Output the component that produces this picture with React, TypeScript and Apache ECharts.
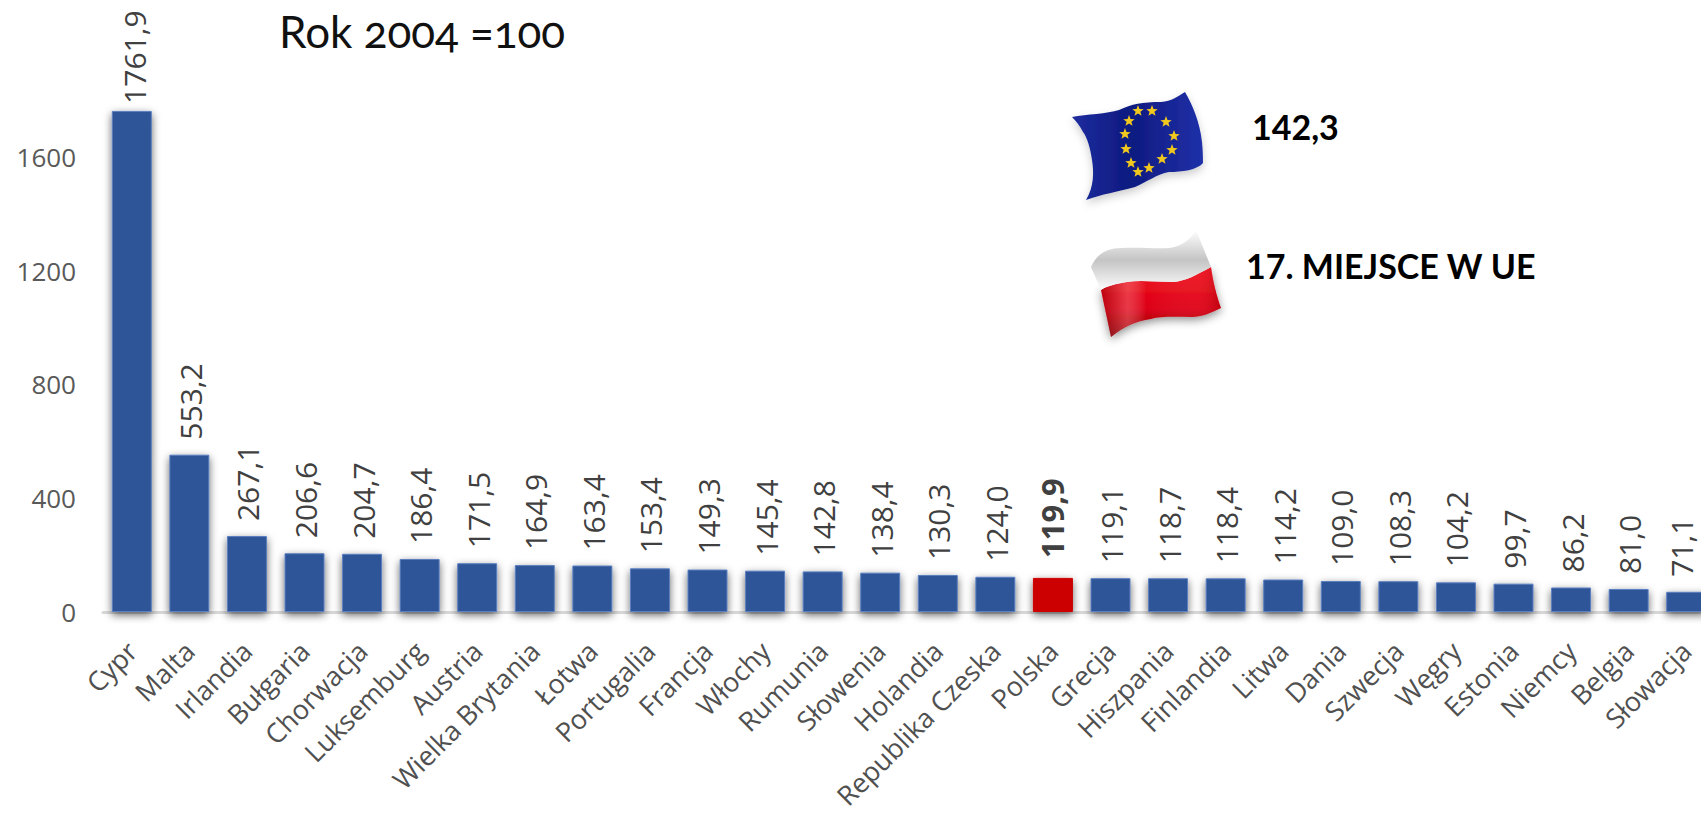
import React, { useEffect, useRef } from "react";
import * as echarts from "echarts";

const categories = ["Cypr","Malta","Irlandia","Bułgaria","Chorwacja","Luksemburg","Austria","Wielka Brytania","Łotwa","Portugalia","Francja","Włochy","Rumunia","Słowenia","Holandia","Republika Czeska","Polska","Grecja","Hiszpania","Finlandia","Litwa","Dania","Szwecja","Węgry","Estonia","Niemcy","Belgia","Słowacja"];
const values = [1761.9,553.2,267.1,206.6,204.7,186.4,171.5,164.9,163.4,153.4,149.3,145.4,142.8,138.4,130.3,124.0,119.9,119.1,118.7,118.4,114.2,109.0,108.3,104.2,99.7,86.2,81.0,71.1];
const yTicks = [0,400,800,1200,1600];
const highlighted = "Polska";
const title = "Rok 2004 =100";
const euValue = "142,3";
const plRank = "17. MIEJSCE W UE";

const BLUE = "#2F5597";
const RED = "#CC0000";
const GREY = "#404040";
const FONT = "'Open Sans', sans-serif";

const euD = "M0 25 C15 22 35 22 47 18 C60 12 70 10 89 10 C100 9 105 5 113 0 C120 12 128 30 130 50 C131 60 131 68 131 71 C125 78 110 80 97 80 C85 82 75 90 63 95 C45 100 30 102 14 108 C22 95 22 80 20 68 C18 55 15 45 11 40 C8 34 4 29 0 25 Z";
const plTopD = "M0 37 C5 25 15 18 30 18 C50 17 65 19 78 18 C90 17 100 9 105 0 L120 37 C105 45 95 51 82 52 C65 52 50 50 36 52 C25 54 16 56 10 60 Z";
const plBotD = "M10 60 C16 56 25 54 36 52 C50 50 65 52 82 52 C95 51 105 45 120 37 C122 52 126 67 130 78 C120 83 110 87 101 87 C85 87 70 86 60 89 C45 91 32 97 20 107 Z";
echarts.graphic.registerShape("euFlag", echarts.graphic.extendPath(euD, {}) as any);
echarts.graphic.registerShape("plTop", echarts.graphic.extendPath(plTopD, {}) as any);
echarts.graphic.registerShape("plBot", echarts.graphic.extendPath(plBotD, {}) as any);

function star(cx: number, cy: number, r: number) {
  const pts: number[][] = [];
  for (let i = 0; i < 10; i++) {
    const a = -Math.PI / 2 + (i * Math.PI) / 5;
    const q = i % 2 === 0 ? r : r * 0.42;
    pts.push([cx + q * Math.cos(a), cy + q * Math.sin(a)]);
  }
  return { type: "polygon", shape: { points: pts }, style: { fill: "#F0C81E" }, silent: true };
}

const euStars = [[1138,111],[1152,111],[1166,122],[1174,136],[1172,150],[1162,159],[1149,168],[1138,172],[1131,163],[1126,149],[1125,134],[1129,121]];

export default function App() {
  const ref = useRef<HTMLDivElement>(null);
  useEffect(() => {
    document.body.style.margin = "0";
    document.body.style.overflow = "hidden";
    const css = document.createElement("style");
    css.textContent = 'text[style*="44px"]{font-variant-numeric:oldstyle-nums !important;font-feature-settings:"onum" 1 !important;}';
    document.head.appendChild(css);
    const chart = echarts.init(ref.current!, undefined, { renderer: "svg" });
    chart.setOption({
      animation: false,
      backgroundColor: "#ffffff",
      grid: { left: 103, top: 43.2, width: 1612, height: 568.8, containLabel: false, outerBoundsMode: "none" },
      xAxis: {
        type: "category",
        data: categories,
        axisTick: { show: false },
        axisLine: { lineStyle: { color: "#D9D9D9", width: 3 } },
        axisLabel: { interval: 0, rotate: 45, color: "#505050", fontFamily: FONT, fontSize: 27, margin: 34 },
      },
      yAxis: {
        type: "value",
        min: 0,
        max: 2000,
        interval: 400,
        splitLine: { show: false },
        axisLine: { show: false },
        axisTick: { show: false },
        axisLabel: {
          customValues: yTicks,
          color: "#595959",
          fontFamily: FONT,
          fontSize: 26,
          margin: 27,
          formatter: (v: number) => String(v),
        },
      },
      series: [
        {
          type: "bar",
          barWidth: 40,
          clip: false,
          data: values.map((v, i) => {
            const isH = categories[i] === highlighted;
            const last = i === values.length - 1;
            return {
              value: v,
              itemStyle: {
                color: isH ? RED : BLUE,
                borderColor: isH ? RED : "#5B7FBF",
                borderWidth: 1,
                shadowBlur: 8,
                shadowColor: "rgba(0,0,0,0.6)",
                shadowOffsetY: 3,
              },
              label: isH
                ? { fontWeight: "bold", fontSize: 31, distance: 20, offset: [0, -1] }
                : i === 0
                  ? { distance: 7, offset: [0, 3] }
                  : last
                    ? { offset: [0, -5] }
                    : undefined,
            };
          }),
          label: {
            show: true,
            position: "top",
            rotate: 90,
            align: "left",
            verticalAlign: "middle",
            distance: 15,
            offset: [0, 1],
            color: GREY,
            fontFamily: FONT,
            fontSize: 30,
            formatter: (p: any) => p.value.toFixed(1).replace(".", ","),
          },
        },
      ],
      graphic: [
        { type: "text", left: 279, top: 9, style: { text: title, fontFamily: "Lato, sans-serif", fontSize: 44, fill: "#111111" } },
        { type: "text", left: 1252, top: 109, style: { text: euValue, fontFamily: "Lato, sans-serif", fontWeight: "bold", fontSize: 34, fill: "#000" } },
        { type: "text", left: 1246, top: 248, style: { text: plRank, fontFamily: "Lato, sans-serif", fontWeight: "bold", fontSize: 34, fill: "#000" } },
        {
          type: "euFlag", x: 1072, y: 92, silent: true,
          style: { fill: new echarts.graphic.LinearGradient(0, 0, 1, 0, [
            { offset: 0, color: "#1D2C9E" }, { offset: 0.45, color: "#0E1A80" }, { offset: 1, color: "#2030A8" },
          ]), shadowBlur: 8, shadowColor: "rgba(0,0,0,0.2)", shadowOffsetY: 4 },
        },
        ...euStars.map(([x, y]) => star(x, y, 6)),
        {
          type: "plBot", x: 1091, y: 230, silent: true,
          style: { fill: new echarts.graphic.LinearGradient(0, 0, 0, 1, [
            { offset: 0, color: "#F01020" }, { offset: 0.6, color: "#DC0014" }, { offset: 1, color: "#8A0008" },
          ]), shadowBlur: 10, shadowColor: "rgba(0,0,0,0.45)", shadowOffsetY: 3 },
        },
        {
          type: "plBot", x: 1091, y: 230, silent: true,
          style: { fill: new echarts.graphic.LinearGradient(0, 0, 1, 0, [
            { offset: 0, color: "rgba(120,0,0,0.35)" }, { offset: 0.22, color: "rgba(255,160,160,0.35)" },
            { offset: 0.38, color: "rgba(255,255,255,0)" }, { offset: 0.8, color: "rgba(255,120,120,0.12)" },
            { offset: 1, color: "rgba(120,0,0,0.3)" },
          ]) },
        },
        {
          type: "plTop", x: 1091, y: 230, silent: true,
          style: { fill: new echarts.graphic.LinearGradient(0, 0, 0, 1, [
            { offset: 0, color: "#FFFFFF" }, { offset: 0.5, color: "#C4C4C4" }, { offset: 1, color: "#FDFDFD" },
          ]) },
        },
      ],
    });
    return () => chart.dispose();
  }, []);
  return <div ref={ref} style={{ position: "fixed", left: 0, top: 0, width: 1701, height: 814 }} />;
}
